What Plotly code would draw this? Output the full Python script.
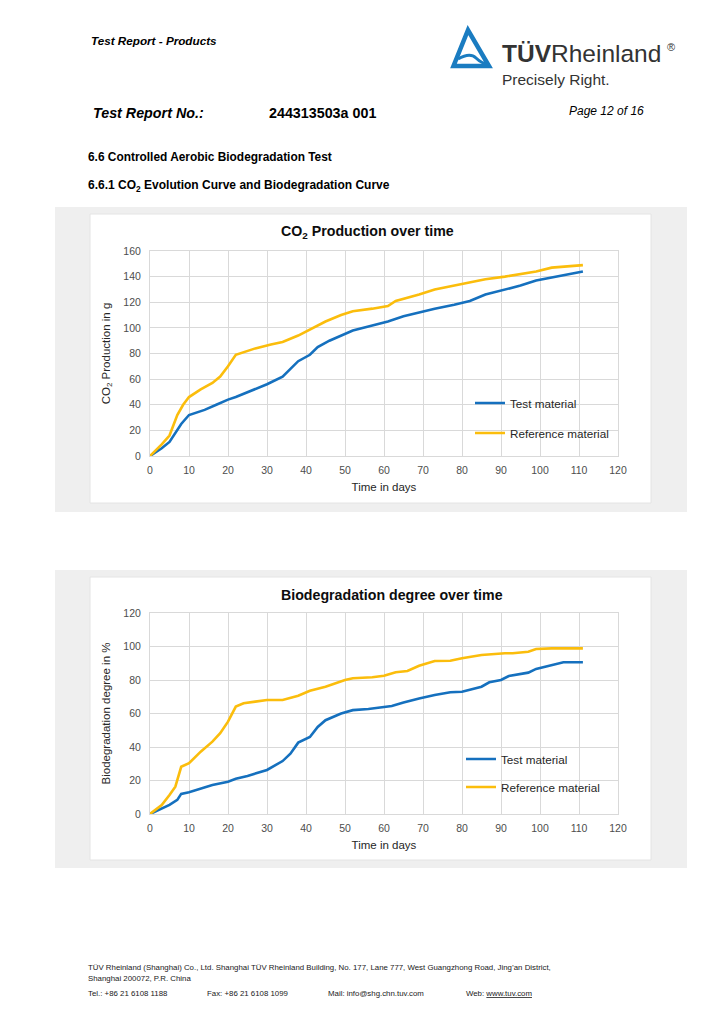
import plotly.graph_objects as go

W, H = 724, 1024

# ---------------- data ----------------
co2_days_test = [0, 3, 5, 8, 10, 14, 17, 20, 22, 26, 30, 34, 38, 41, 43, 46, 49, 52, 56, 61, 65, 70, 73, 78, 82, 86, 91, 95, 99, 104, 108, 111]
co2_test = [0, 6, 11, 25, 32, 36, 40, 44, 46, 51, 56, 62, 74, 79, 85, 90, 94, 98, 101, 105, 109, 113, 115, 118, 121, 126, 130, 133, 137, 140, 142, 144]

co2_days_ref = [0, 3, 5, 7, 8.5, 10, 13, 16, 18, 20, 22, 24, 27, 31, 34, 38, 43, 45, 49, 52, 57, 61, 63, 67, 69, 73, 78, 82, 86, 91, 95, 99, 103, 108, 111]
co2_ref = [0, 9, 16, 32, 40, 46, 52, 57, 62, 70, 79, 81, 84, 87, 89, 94, 102, 105, 110, 113, 115, 117, 121, 124, 126, 130, 133, 135, 138, 140, 142, 144, 147, 148, 149]

bio_days_test = [0, 3, 5, 7, 8, 10, 13, 16, 20, 22, 25, 27, 30, 34, 36, 38, 41, 43, 45, 49, 52, 56, 60, 62, 65, 69, 73, 77, 80, 85, 87, 90, 92, 97, 99, 103, 106, 111]
bio_test = [0, 3, 5.4, 8.4, 12, 13, 15, 17.3, 19.3, 21, 22.7, 24, 26.3, 31.6, 36, 42.6, 46, 52, 56, 60, 62, 62.7, 63.7, 64.5, 66.5, 69, 71, 72.7, 73, 76, 78.6, 80, 82.4, 84.4, 86.6, 89, 90.6, 90.6]

bio_days_ref = [0, 3, 5, 6.5, 8, 10, 13, 16, 18, 20, 22, 24, 27, 30, 34, 38, 41, 44, 45, 50, 52, 57, 60, 63, 66, 69, 71, 73, 77, 80, 85, 88, 91, 93, 97, 99, 103, 108, 111]
bio_ref = [0, 5.4, 11.3, 16.3, 28.2, 30.3, 37.2, 43.2, 48.2, 55.1, 64.1, 66.1, 67.1, 68.1, 68.1, 70.6, 73.6, 75.4, 76, 80, 81, 81.6, 82.5, 84.6, 85.4, 88.5, 90, 91.3, 91.5, 93, 94.9, 95.5, 96, 96, 96.9, 98.5, 98.9, 98.9, 98.9]

series_names = ["Test material", "Reference material"]
x_ticks = list(range(0, 121, 10))

# ---------------- styles ----------------
FONT = "Liberation Sans, Arial, sans-serif"
BLUE = "#1570be"
GOLD = "#fbbd0c"
GRID = "#d9d9d9"
TICK = "#4d4d4d"


def px(x):
    return x / W


def py(y):
    return 1 - y / H


fig = go.Figure()

fig.add_trace(go.Scatter(x=co2_days_test, y=co2_test, name=series_names[0], mode="lines",
                         line=dict(color=BLUE, width=2.6), xaxis="x", yaxis="y", legend="legend"))
fig.add_trace(go.Scatter(x=co2_days_ref, y=co2_ref, name=series_names[1], mode="lines",
                         line=dict(color=GOLD, width=2.6), xaxis="x", yaxis="y", legend="legend2"))
fig.add_trace(go.Scatter(x=bio_days_test, y=bio_test, name=series_names[0], mode="lines",
                         line=dict(color=BLUE, width=2.6), xaxis="x2", yaxis="y2", legend="legend3"))
fig.add_trace(go.Scatter(x=bio_days_ref, y=bio_ref, name=series_names[1], mode="lines",
                         line=dict(color=GOLD, width=2.6), xaxis="x2", yaxis="y2", legend="legend4"))

axis_common = dict(showgrid=True, gridcolor=GRID, gridwidth=1, showline=True, linecolor=GRID,
                   linewidth=1, mirror=True, zeroline=False, ticks="", automargin=False,
                   tickfont=dict(family=FONT, size=10.5, color=TICK))
title_font = dict(family=FONT, size=11.5, color="#262626")

xdom = [px(150), px(618)]
fig.update_layout(
    xaxis=dict(domain=xdom, range=[0, 120], tickvals=x_ticks, anchor="y", ticklabelstandoff=4,
               title=dict(text="Time in days", font=title_font, standoff=8),
               **axis_common),
    yaxis=dict(domain=[py(456), py(251)], range=[0, 160], dtick=20, anchor="x", ticklabelstandoff=6,
               title=dict(text="CO<sub>2</sub> Production in g", font=title_font, standoff=10),
               **axis_common),
    xaxis2=dict(domain=xdom, range=[0, 120], tickvals=x_ticks, anchor="y2", ticklabelstandoff=4,
                title=dict(text="Time in days", font=title_font, standoff=8),
                **axis_common),
    yaxis2=dict(domain=[py(814), py(613)], range=[0, 120], dtick=20, anchor="x2", ticklabelstandoff=6,
                title=dict(text="Biodegradation degree in %", font=title_font, standoff=10),
                **axis_common),
)

leg_common = dict(bgcolor="rgba(0,0,0,0)", xanchor="left", yanchor="middle", itemwidth=30,
                  font=dict(family=FONT, size=11.7, color="#262626"))
fig.update_layout(
    legend=dict(x=px(470), y=py(403), **leg_common),
    legend2=dict(x=px(470), y=py(433), **leg_common),
    legend3=dict(x=px(461), y=py(759), **leg_common),
    legend4=dict(x=px(461), y=py(787), **leg_common),
)

# ---------------- panels ----------------
shapes = []
for (top, bottom, wtop, wbottom) in [(207, 512, 214, 503), (570, 868, 577, 860)]:
    shapes.append(dict(type="rect", xref="paper", yref="paper", x0=px(55), x1=px(687), y0=py(bottom), y1=py(top),
                       fillcolor="#efefef", line=dict(width=0), layer="below"))
    shapes.append(dict(type="rect", xref="paper", yref="paper", x0=px(90), x1=px(651), y0=py(wbottom), y1=py(wtop),
                       fillcolor="white", line=dict(color="#e4e4e4", width=1), layer="below"))


# logo triangle
def path(points, close=True):
    s = "M" + " L".join(f"{px(a):.5f},{py(b):.5f}" for a, b in points)
    return s + (" Z" if close else "")


shapes.append(dict(type="path", xref="paper", yref="paper",
                   path=path([(468, 30), (453.5, 66), (489, 66)]),
                   line=dict(color="#1a7cc1", width=4.5), fillcolor="rgba(0,0,0,0)"))
shapes.append(dict(type="path", xref="paper", yref="paper",
                   path=f"M{px(458):.5f},{py(59):.5f} Q{px(470):.5f},{py(52):.5f} {px(476):.5f},{py(58):.5f} T{px(489):.5f},{py(64):.5f}",
                   line=dict(color="#1a7cc1", width=3), fillcolor="rgba(0,0,0,0)"))
fig.update_layout(shapes=shapes)

# ---------------- texts ----------------
ann = []


def text(x, y, s, size, color="#000", xanchor="left", bold=False, italic=False):
    t = s
    if bold:
        t = f"<b>{t}</b>"
    if italic:
        t = f"<i>{t}</i>"
    ann.append(dict(x=px(x), y=py(y), xref="paper", yref="paper", text=t, showarrow=False,
                    xanchor=xanchor, yanchor="middle", xshift=-1, font=dict(family=FONT, size=size, color=color)))


text(90, 40, "Test Report - Products", 11.7, bold=True, italic=True)
text(501, 53, "<b>TÜV</b>Rheinland", 24.5, color="#333333")
text(666, 47, "®", 11, color="#333333")
text(501, 79, "Precisely Right.", 15.5, color="#333333")
text(92, 113, "Test Report No.:", 14.3, bold=True, italic=True)
text(268, 113, "244313503a 001", 14.3, bold=True)
text(568, 111, "Page 12 of 16", 12, italic=True)
text(87, 157, "6.6 Controlled Aerobic Biodegradation Test", 11.9, bold=True)
text(87, 186, "6.6.1 CO<sub>2</sub> Evolution Curve and Biodegradation Curve", 12, bold=True)

text(368, 232, "CO<sub>2</sub> Production over time", 14.2, color="#0d0d0d", xanchor="center", bold=True)
text(393, 595, "Biodegradation degree over time", 14.2, color="#0d0d0d", xanchor="center", bold=True)

FOOT = 7.85
FC = "#1a1a1a"
text(87, 967, "TÜV Rheinland (Shanghai) Co., Ltd. Shanghai TÜV Rheinland Building, No. 177, Lane 777, West Guangzhong Road, Jing’an District,", FOOT, color=FC)
text(87, 978, "Shanghai 200072, P.R. China", FOOT, color=FC)
text(87, 993, "Tel.: +86 21 6108 1188", FOOT, color=FC)
text(206, 993, "Fax: +86 21 6108 1099", FOOT, color=FC)
text(327, 993, "Mail: info@shg.chn.tuv.com", FOOT, color=FC)
text(465, 993, "Web: <u>www.tuv.com</u>", FOOT, color=FC)

fig.update_layout(annotations=ann, width=W, height=H,
                  margin=dict(l=0, r=0, t=0, b=0, pad=0, autoexpand=False),
                  paper_bgcolor="white", plot_bgcolor="white", showlegend=True,
                  font=dict(family=FONT))

fig.write_html("out.html", config={"displayModeBar": False},
               post_script="document.documentElement.style.margin='0';document.body.style.margin='0';document.body.style.overflow='hidden';")
